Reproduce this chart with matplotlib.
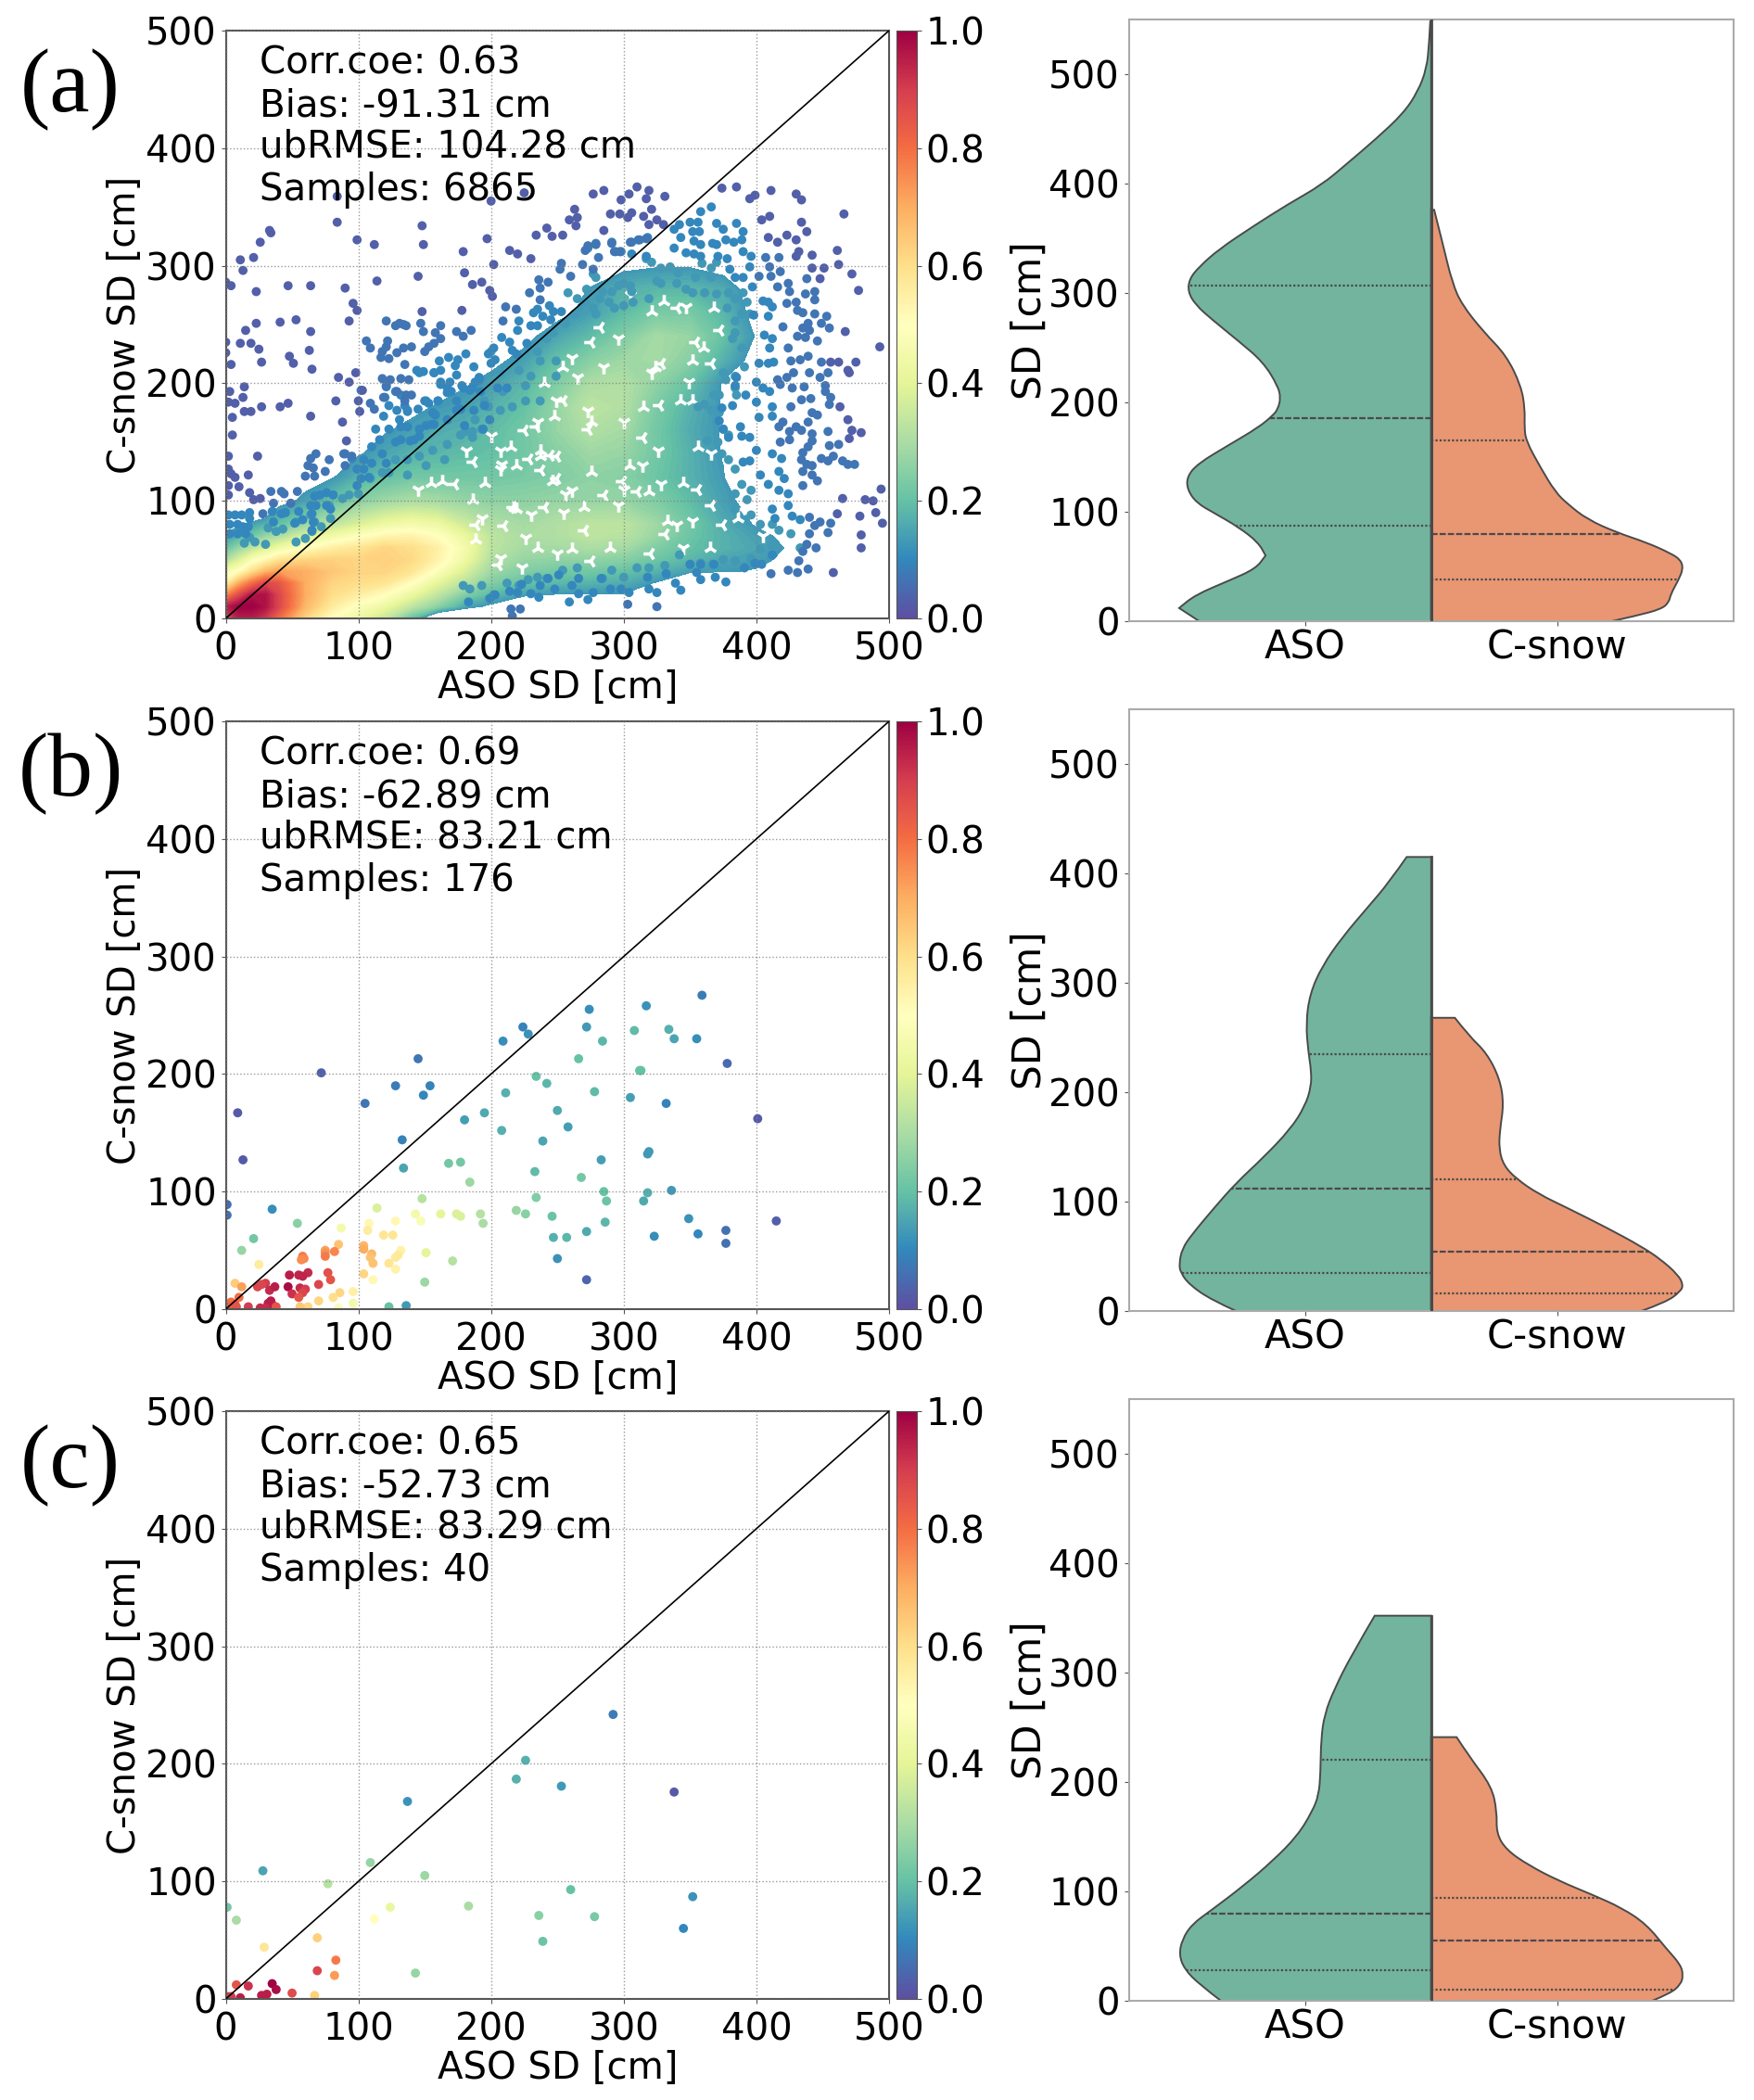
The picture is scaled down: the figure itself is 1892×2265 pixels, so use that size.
import numpy as np
import matplotlib
matplotlib.use('Agg')
import matplotlib.pyplot as plt
from matplotlib.cm import ScalarMappable
from matplotlib.colors import Normalize
from matplotlib.path import Path
from matplotlib.patches import PathPatch

W, H = 1892, 2265

stats = [
    ['Corr.coe: 0.63', 'Bias: -91.31 cm', 'ubRMSE: 104.28 cm', 'Samples: 6865'],
    ['Corr.coe: 0.69', 'Bias: -62.89 cm', 'ubRMSE: 83.21 cm', 'Samples: 176'],
    ['Corr.coe: 0.65', 'Bias: -52.73 cm', 'ubRMSE: 83.29 cm', 'Samples: 40'],
]
letters = ['(a)', '(b)', '(c)']

a_grid_x = [0, 10, 20, 30, 40, 60, 80, 100, 120, 140, 160, 180, 200, 225, 250, 275, 300, 325, 350, 375, 400, 425]
a_grid_y = [0, 10, 20, 30, 40, 50, 60, 70, 80, 100, 120, 140, 160, 180, 200, 220, 240, 260, 280, 300, 320]
a_grid_c = [
    [.85, .95, .95, .90, .80, .62, .50, .42, .34, .20, 0, 0, 0, 0, 0, 0, 0, 0, 0, 0, 0, 0],
    [.95, 1.0, 1.0, .97, .88, .68, .56, .48, .42, .33, .25, .15, .11, 0, 0, 0, 0, 0, 0, 0, 0, 0],
    [.75, .87, .97, .97, .88, .70, .60, .55, .50, .42, .33, .24, .18, .14, .12, .12, .12, 0, 0, 0, 0, 0],
    [.55, .70, .80, .88, .85, .70, .62, .60, .58, .50, .40, .32, .24, .20, .18, .17, .16, .12, 0, 0, 0, 0],
    [.45, .50, .60, .68, .72, .70, .65, .62, .62, .58, .48, .38, .28, .24, .22, .22, .20, .17, .14, .13, .12, 0],
    [.30, .38, .47, .52, .58, .62, .63, .62, .63, .61, .54, .43, .31, .27, .26, .26, .25, .21, .18, .15, .14, .11],
    [.20, .27, .33, .38, .43, .50, .55, .58, .62, .60, .55, .45, .33, .29, .29, .30, .29, .24, .20, .17, .15, .12],
    [.13, .17, .22, .27, .30, .38, .44, .49, .53, .54, .50, .42, .33, .30, .31, .33, .32, .27, .21, .17, .14, .11],
    [.10, .12, .14, .17, .20, .27, .33, .38, .43, .45, .43, .36, .31, .29, .31, .33, .33, .28, .22, .16, .12, .09],
    [0, 0, 0, 0, .10, .14, .20, .25, .28, .30, .29, .27, .26, .26, .27, .27, .27, .24, .19, .14, .10, 0],
    [0, 0, 0, 0, 0, .10, .12, .17, .20, .22, .22, .22, .22, .23, .24, .26, .25, .21, .17, .13, 0, 0],
    [0, 0, 0, 0, 0, 0, .09, .12, .15, .17, .18, .19, .20, .22, .25, .28, .27, .22, .17, .12, 0, 0],
    [0, 0, 0, 0, 0, 0, 0, .10, .12, .14, .16, .17, .19, .22, .27, .31, .29, .22, .16, .12, 0, 0],
    [0, 0, 0, 0, 0, 0, 0, .08, .10, .11, .13, .14, .17, .20, .27, .33, .31, .23, .17, .12, 0, 0],
    [0, 0, 0, 0, 0, 0, 0, 0, 0, .09, .10, .12, .14, .18, .24, .30, .31, .26, .20, .12, 0, 0],
    [0, 0, 0, 0, 0, 0, 0, 0, 0, 0, 0, .09, .11, .14, .20, .25, .28, .29, .25, .17, .10, 0],
    [0, 0, 0, 0, 0, 0, 0, 0, 0, 0, 0, 0, 0, .11, .15, .19, .24, .29, .27, .20, .12, 0],
    [0, 0, 0, 0, 0, 0, 0, 0, 0, 0, 0, 0, 0, .09, .11, .14, .19, .23, .23, .18, .10, 0],
    [0, 0, 0, 0, 0, 0, 0, 0, 0, 0, 0, 0, 0, 0, .08, .13, .17, .18, .18, .16, .09, 0],
    [0, 0, 0, 0, 0, 0, 0, 0, 0, 0, 0, 0, 0, 0, 0, .08, .11, .12, .12, .10, 0, 0],
    [0, 0, 0, 0, 0, 0, 0, 0, 0, 0, 0, 0, 0, 0, 0, 0, 0, 0, 0, 0, 0, 0],
]
# white holes between the dots inside the dense part
a_holes = [(285, 214), (324, 214), (328, 217), (321, 209), (352, 219), (354, 235), (273, 177), (276, 167),
           (273, 161), (300, 167), (315, 180), (327, 181), (349, 201), (343, 185), (314, 154), (326, 143),
           (304, 130), (299, 117), (314, 130), (276, 125), (249, 119), (261, 109), (237, 138), (228, 136),
           (208, 131), (215, 146), (249, 138), (235, 167), (248, 172), (254, 185), (261, 222), (254, 214),
           (282, 248), (296, 238), (321, 261), (340, 264), (347, 265), (368, 264), (366, 217), (352, 83),
           (333, 83), (331, 72), (340, 80), (319, 108), (310, 108), (328, 114), (219, 93), (209, 79), (207, 51),
           (261, 59), (275, 49), (193, 85), (186, 101), (186, 133), (405, 70), (386, 85), (366, 96), (296, 96),
           (352, 185), (374, 80), (366, 140), (356, 146), (389, 93), (207, 127), (219, 130), (234, 163), (249, 185),
           (246, 117), (216, 95), (230, 88), (188, 67), (205, 46), (223, 43), (237, 143), (172, 114), (181, 143),
           (163, 117), (244, 139), (207, 143), (155, 115), (237, 126), (256, 106), (217, 95), (188, 80), (226, 69),
           (360, 230), (372, 245), (305, 275), (330, 270), (275, 235), (265, 205), (240, 200), (225, 160), (200, 155),
           (270, 95), (285, 105), (300, 110), (345, 115), (355, 110), (250, 55), (290, 60), (320, 55), (345, 60),
           (365, 60), (240, 95), (255, 90), (235, 60), (270, 75), (145, 110), (195, 115)]
# single dots around the cloud, grouped by colour
a_far = [(84, 359), (84, 337), (148, 334), (33, 330), (34, 328), (26, 320), (99, 322), (112, 318), (149, 318),
         (11, 305), (21, 307), (13, 296), (179, 312), (197, 323), (200, 355), (225, 362), (214, 313), (220, 310),
         (230, 306), (234, 326), (242, 332), (246, 325), (254, 326), (259, 339), (263, 348), (265, 341), (264, 334),
         (277, 361), (285, 364), (298, 356), (304, 361), (310, 367), (319, 364), (317, 357), (290, 344), (297, 344),
         (303, 341), (306, 345), (315, 342), (321, 348), (319, 335), (325, 339), (285, 330), (331, 359), (330, 335),
         (202, 301), (180, 294), (145, 291), (114, 287), (47, 283), (64, 283), (4, 283), (0, 286), (23, 278), (90, 281),
         (186, 284), (193, 286), (199, 279), (201, 274), (96, 268), (99, 262), (148, 261), (178, 262), (93, 253),
         (53, 254), (41, 252), (23, 251), (15, 245), (64, 244), (0, 235), (0, 226), (11, 234), (19, 234), (25, 229),
         (63, 228), (48, 223), (51, 217), (27, 218), (4, 216), (65, 212), (3, 193), (2, 184), (7, 183), (13, 188),
         (14, 197), (14, 176), (19, 176), (27, 180), (41, 180), (47, 183), (5, 171), (64, 172), (88, 167), (91, 151),
         (5, 156), (85, 205), (93, 201), (83, 185), (100, 185), (101, 176), (103, 194), (98, 209), (2, 138), (24, 138),
         (2, 127), (4, 123), (7, 120), (17, 122), (2, 113), (10, 112), (2, 105), (18, 107), (21, 101), (26, 102),
         (374, 366), (385, 367), (411, 364), (430, 361), (434, 356), (399, 360), (395, 357), (466, 344), (404, 339),
         (410, 342), (434, 337), (438, 329), (409, 324), (416, 320), (423, 326), (430, 322), (461, 313), (462, 301),
         (472, 293), (477, 279), (432, 312), (430, 308), (442, 309), (442, 298), (451, 298), (448, 289), (467, 244),
         (493, 231), (475, 218), (462, 218), (456, 218), (469, 211), (470, 209), (469, 169), (472, 160), (479, 158),
         (470, 153), (494, 110), (482, 101), (488, 100), (465, 102), (478, 87), (490, 90), (495, 81), (461, 89),
         (479, 71), (479, 60), (458, 39), (463, 180)]
a_mid = [(121, 253), (128, 249), (131, 251), (134, 250), (136, 249), (147, 251), (149, 244), (162, 249), (158, 243),
         (162, 238), (174, 244), (179, 240), (185, 245), (211, 265), (219, 263), (209, 253), (229, 277), (237, 271),
         (236, 288), (243, 286), (237, 281), (252, 297), (253, 302), (260, 291), (269, 301), (277, 297), (271, 313),
         (273, 317), (279, 318), (281, 307), (291, 319), (293, 312), (297, 312), (305, 320), (311, 322), (317, 323),
         (106, 236), (109, 230), (122, 236), (121, 231), (118, 227), (117, 222), (123, 221), (129, 226), (134, 230),
         (140, 231), (150, 227), (153, 231), (157, 234), (135, 216), (118, 204), (124, 203), (132, 204), (138, 203),
         (121, 198), (129, 193), (119, 188), (136, 190), (140, 190), (135, 185), (109, 183), (112, 178), (407, 307),
         (417, 307), (438, 289), (410, 299), (418, 295), (402, 291), (411, 291), (416, 282), (424, 285), (425, 278),
         (437, 276), (444, 278), (444, 271), (423, 268), (430, 269), (431, 262), (435, 260), (444, 259), (453, 257),
         (449, 251), (455, 247), (439, 251), (435, 247), (440, 245), (446, 236), (437, 239), (431, 240), (420, 248),
         (424, 230), (449, 218), (454, 209), (448, 205), (439, 223), (433, 220), (426, 219), (440, 209), (428, 209),
         (423, 205), (416, 203), (436, 197), (427, 196), (418, 199), (452, 198), (452, 193), (456, 188), (455, 182),
         (441, 187), (434, 186), (426, 180), (442, 175), (446, 173), (439, 167), (454, 159), (442, 157), (420, 167),
         (417, 163), (425, 159), (425, 152), (430, 163), (434, 160), (418, 150), (462, 148), (455, 147), (442, 151),
         (439, 146), (435, 141), (434, 135), (449, 136), (454, 134), (458, 138), (465, 134), (469, 131), (474, 131),
         (442, 130), (438, 131), (435, 125), (442, 122), (446, 117), (435, 113), (456, 81), (454, 73), (448, 82),
         (440, 86), (444, 79), (440, 72), (445, 60), (438, 63), (435, 57), (432, 49), (439, 42), (424, 41), (431, 39),
         (411, 38), (216, 2), (215, 8), (222, 8), (325, 10), (303, 12), (34, 108), (42, 108), (44, 106), (54, 108),
         (36, 98), (49, 98), (28, 89), (67, 121), (60, 121), (64, 136), (68, 140), (62, 130), (66, 128), (75, 125),
         (78, 135), (90, 140), (89, 140), (95, 138), (90, 130)]
a_near = [(208, 239), (214, 235), (216, 228), (219, 225), (202, 230), (198, 225), (203, 220), (200, 217), (161, 219),
          (168, 222), (175, 220), (181, 225), (173, 215), (187, 214), (144, 211), (149, 210), (157, 209), (162, 211),
          (162, 199), (169, 201), (178, 198), (186, 196), (191, 203), (167, 192), (174, 185), (192, 193), (150, 185),
          (153, 183), (160, 185), (123, 181), (129, 177), (137, 176), (145, 178), (156, 175), (174, 177), (119, 172),
          (113, 161), (123, 161), (131, 169), (232, 260), (235, 263), (244, 266), (247, 261), (239, 257), (245, 254),
          (253, 261), (221, 253), (220, 245), (230, 249), (235, 249), (227, 234), (412, 93), (424, 106), (417, 109),
          (424, 96), (427, 87), (414, 85), (433, 84), (409, 114), (417, 125), (421, 119), (403, 122), (400, 143),
          (412, 140), (419, 136), (390, 133), (395, 134), (395, 154), (389, 155), (388, 163), (379, 154), (375, 161),
          (372, 168), (374, 179), (382, 181), (400, 184), (402, 171), (412, 180), (412, 172), (384, 198), (392, 190),
          (385, 205), (400, 201), (405, 196), (410, 193), (402, 217), (409, 217), (413, 218), (410, 230), (412, 238),
          (406, 241), (409, 257), (405, 270), (409, 269), (412, 265), (398, 258), (397, 282), (395, 299), (390, 290),
          (384, 290), (380, 297), (389, 322), (383, 320), (377, 322), (390, 312), (396, 308), (371, 308), (378, 306),
          (370, 318), (367, 319), (358, 318), (347, 311), (353, 310), (358, 308), (385, 336), (390, 329), (370, 336),
          (375, 331), (357, 329), (352, 329), (353, 321), (366, 350), (358, 346), (356, 337), (350, 337), (342, 335),
          (338, 331), (343, 324), (338, 315), (318, 324), (312, 322), (306, 320), (317, 308), (306, 310), (294, 312),
          (298, 312), (273, 315), (279, 319), (291, 320), (377, 31), (369, 35), (358, 33), (355, 39), (350, 46),
          (339, 30), (343, 24), (332, 38), (318, 35), (319, 25), (325, 22), (304, 22), (298, 25), (290, 25), (283, 34),
          (277, 22), (273, 16), (266, 21), (259, 14), (261, 28), (266, 34), (251, 37), (243, 34), (248, 25), (236, 18),
          (230, 21), (237, 28), (223, 29), (220, 22), (214, 23), (203, 20), (199, 17), (183, 14), (399, 47), (391, 43),
          (404, 46), (412, 54), (368, 46), (358, 46), (110, 146), (116, 152), (132, 163), (139, 151), (146, 155),
          (155, 165), (160, 185), (170, 193), (179, 196), (188, 201), (151, 185), (132, 190), (128, 193), (121, 197),
          (102, 194), (120, 188), (135, 181), (137, 177), (95, 136), (99, 127), (104, 135), (104, 127), (110, 132),
          (102, 119), (99, 113), (108, 120), (121, 132), (128, 150), (118, 140), (132, 152), (142, 152), (146, 161),
          (137, 163), (151, 164), (157, 165), (158, 173), (167, 169), (177, 178), (187, 177), (195, 181), (205, 196),
          (212, 196), (180, 164), (194, 161), (199, 169), (167, 196), (162, 201), (146, 209), (157, 209), (174, 207),
          (184, 194), (191, 205), (55, 91), (36, 82), (52, 81), (58, 84), (35, 91), (42, 89), (45, 90), (64, 96),
          (68, 96), (76, 96), (79, 93), (67, 104), (71, 105), (76, 107), (81, 105), (65, 89), (66, 82), (65, 75),
          (2, 88), (7, 88), (12, 88), (18, 90), (18, 85), (3, 80), (9, 80), (13, 78), (17, 78), (3, 72), (9, 72), (15, 72)]
a_ring = [(317, 306), (321, 303), (328, 298), (335, 299), (341, 294), (305, 283), (300, 285), (306, 278), (296, 283),
          (291, 278), (284, 278), (279, 290), (282, 272), (277, 264), (279, 259), (289, 269), (293, 264), (300, 266),
          (307, 269), (319, 272), (325, 287), (328, 285), (340, 285), (347, 280), (354, 290), (359, 302), (366, 298),
          (366, 290), (370, 303), (352, 277), (361, 277), (370, 276), (379, 277), (384, 272), (390, 277), (393, 269),
          (395, 259), (389, 259), (384, 253), (378, 264), (384, 243), (382, 238), (389, 230), (391, 214), (375, 209),
          (384, 206), (377, 203), (384, 196), (385, 190), (372, 190), (368, 190), (361, 182), (356, 180), (366, 177),
          (372, 175), (370, 167), (375, 161), (379, 156), (363, 151), (371, 150), (374, 140), (379, 135), (384, 127),
          (389, 114), (396, 109), (384, 106), (393, 101), (384, 93), (396, 88), (403, 80), (412, 80), (417, 75),
          (426, 72), (433, 60), (412, 62), (403, 59), (396, 51), (384, 49), (375, 50), (367, 46), (358, 47), (350, 46),
          (342, 54), (331, 45), (319, 43), (310, 43), (300, 35), (291, 41), (284, 34), (265, 43), (254, 41), (242, 34),
          (235, 35), (228, 33), (221, 28), (212, 30), (202, 20), (193, 28), (184, 25), (179, 28), (247, 243), (256, 251),
          (263, 259), (258, 277), (265, 272), (272, 280), (277, 293), (271, 269), (242, 238), (235, 227), (221, 211),
          (209, 193), (195, 185), (191, 201), (207, 209), (200, 227), (226, 198), (230, 206), (237, 219), (249, 219),
          (249, 206), (237, 185), (226, 185), (216, 180), (207, 177), (198, 180), (188, 169), (186, 154), (193, 161),
          (181, 159), (100, 106), (109, 119), (118, 124), (128, 135), (137, 135), (146, 138), (156, 143), (167, 148),
          (177, 156), (186, 159), (123, 124), (137, 122), (151, 130), (165, 135), (93, 105), (88, 102), (78, 96),
          (64, 88), (67, 82), (65, 74), (53, 82), (43, 76), (38, 74), (32, 77), (18, 69), (14, 64), (22, 65), (30, 63),
          (53, 65), (60, 68), (72, 78), (79, 85)]
a_far_c, a_mid_c, a_near_c, a_ring_c = 0.03, 0.07, 0.10, 0.13

# panel b dots: ASO, C-snow, density
b_dots = [(359, 267, .08), (317, 258, .12), (274, 255, .11), (224, 240, .09), (228, 234, .12), (209, 228, .11),
          (272, 240, .13), (308, 237, .19), (334, 238, .17), (338, 230, .15), (355, 230, .11), (284, 228, .18),
          (145, 213, .07), (266, 213, .20), (378, 209, .05), (72, 201, .03), (312, 203, .20), (313, 203, .20),
          (234, 198, .20), (242, 192, .18), (128, 190, .08), (154, 190, .09), (149, 182, .10), (211, 184, .17),
          (278, 185, .19), (305, 180, .14), (332, 175, .09), (105, 175, .07), (9, 167, .02), (195, 167, .16),
          (250, 169, .16), (180, 161, .14), (258, 155, .14), (208, 152, .17), (401, 162, .02), (133, 144, .09),
          (239, 143, .15), (318, 132, .13), (319, 134, .13), (283, 127, .14), (13, 127, .02), (168, 124, .22),
          (177, 125, .22), (134, 120, .15), (233, 117, .19), (268, 112, .22), (184, 108, .28), (285, 100, .20),
          (318, 99, .17), (336, 101, .13), (234, 95, .24), (287, 92, .21), (315, 92, .16), (148, 94, .32), (1, 89, .06),
          (1, 80, .06), (35, 85, .11), (114, 86, .38), (219, 84, .27), (226, 81, .25), (246, 79, .21), (143, 81, .45),
          (162, 81, .40), (174, 81, .38), (177, 79, .38), (192, 81, .32), (147, 75, .47), (194, 73, .30), (128, 75, .52),
          (108, 73, .52), (54, 73, .25), (87, 69, .45), (107, 67, .56), (286, 74, .18), (349, 77, .12), (415, 75, .03),
          (272, 66, .16), (377, 67, .06), (356, 64, .10), (247, 61, .17), (257, 61, .18), (323, 62, .11), (119, 63, .58),
          (126, 63, .58), (21, 60, .22), (377, 56, .06), (85, 55, .66), (104, 54, .68), (104, 51, .70), (75, 50, .72),
          (75, 48, .74), (82, 49, .76), (132, 50, .54), (12, 50, .27), (151, 48, .40), (110, 47, .68), (75, 45, .78),
          (58, 45, .78), (59, 43, .76), (57, 42, .75), (130, 46, .57), (128, 44, .57), (109, 44, .66), (111, 39, .66),
          (123, 39, .58), (25, 38, .56), (171, 41, .32), (250, 43, .12), (128, 34, .54), (62, 31, .93), (77, 31, .86),
          (48, 29, .95), (55, 29, .94), (58, 28, .94), (79, 25, .85), (104, 30, .62), (111, 25, .52), (150, 23, .28),
          (272, 25, .04), (7, 22, .64), (12, 19, .72), (30, 22, .90), (27, 21, .88), (24, 19, .88), (33, 16, .93),
          (37, 19, .95), (47, 19, .98), (70, 21, .88), (56, 18, .93), (60, 17, .90), (58, 14, .88), (50, 13, .92),
          (55, 10, .85), (96, 15, .55), (86, 14, .62), (81, 10, .60), (70, 7, .62), (96, 5, .45), (136, 3, .13),
          (123, 2, .20), (85, 1, .48), (62, 2, .62), (56, 2, .65), (34, 7, .95), (32, 5, .95), (35, 4, .95), (26, 1, .93),
          (30, 1, .93), (38, 2, .85), (17, 2, .90), (10, 10, .80), (4, 6, .80), (7, 4, .85), (3, 2, .83), (8, 2, .85)]

# panel c dots
c_dots = [(292, 242, .08), (226, 203, .17), (219, 187, .17), (253, 181, .13), (338, 176, .02), (137, 168, .12),
          (109, 116, .27), (28, 109, .15), (150, 105, .28), (77, 98, .32), (260, 93, .20), (352, 87, .12), (1, 78, .22),
          (183, 79, .30), (124, 78, .42), (236, 71, .25), (278, 70, .23), (8, 67, .30), (112, 68, .50), (345, 60, .10),
          (69, 52, .63), (239, 49, .21), (29, 44, .58), (83, 33, .78), (69, 24, .88), (82, 20, .73), (143, 22, .27),
          (35, 13, 1.0), (8, 12, .85), (17, 11, .92), (38, 8, .98), (50, 5, .87), (31, 4, .95), (27, 3, .95), (67, 3, .63),
          (11, 1, .95), (4, 2, .90), (2, 2, .90)]

# violin outlines: SD, half width (a repeated point keeps a sharp corner)
aso_a = [(0, .92), (12, 1.0), (12, 1.0), (24, .936), (37, .803), (48, .696), (60, .657), (60, .657), (72, .686), (86, .764),
         (99, .862), (108, .93), (120, .967), (132, .969), (144, .926), (161, .803), (177, .686), (188, .628), (194, .608),
         (204, .597), (215, .608), (237, .667), (256, .764), (276, .871), (289, .934), (301, .965), (313, .959),
         (324, .92), (340, .842), (361, .706), (381, .569), (399, .433), (418, .335), (441, .218), (464, .111),
         (484, .053), (505, .018), (528, .008), (550, .003)]
csnow_a = [(0, .717), (5, .815), (11, .912), (17, .943), (25, .951), (37, .98), (48, 1.0), (56, .99), (62, .951),
           (72, .854), (81, .737), (93, .62), (107, .542), (118, .493), (140, .435), (165, .376), (178, .37), (194, .372),
           (215, .357), (243, .298), (264, .21), (289, .123), (309, .084), (346, .045), (376, .012)]
aso_b = [(0, .774), (10, .871), (24, .959), (35, .994), (43, 1.0), (57, .988), (70, .949), (94, .862), (117, .774),
         (140, .667), (166, .559), (187, .501), (205, .476), (220, .476), (236, .487), (263, .497), (290, .481),
         (315, .433), (341, .355), (370, .248), (391, .17), (415, .097)]
csnow_b = [(0, .834), (8, .932), (18, .99), (24, 1.0), (33, .98), (47, .912), (59, .834), (76, .698), (94, .542),
           (107, .425), (121, .337), (133, .288), (148, .269), (166, .273), (189, .288), (212, .273), (236, .22),
           (251, .152), (268, .094)]
aso_c = [(0, .834), (15, .92), (29, .979), (42, 1.0), (56, .988), (70, .949), (83, .871), (105, .745), (128, .628),
         (151, .53), (173, .472), (188, .446), (208, .439), (239, .437), (262, .423), (285, .384), (316, .316),
         (352, .224)]
csnow_c = [(0, .877), (7, .951), (15, .99), (23, 1.0), (33, .99), (48, .932), (70, .854), (85, .756), (97, .639),
           (110, .503), (124, .386), (138, .298), (153, .259), (173, .261), (196, .24), (223, .152), (241, .101)]
# quartiles (25, 50, 75)
aso_q = [[87, 186, 307], [35, 112, 235], [28, 80, 220]]
csnow_q = [[38, 80, 165], [16, 54, 120], [10, 55, 94]]
violins = [(aso_a, csnow_a), (aso_b, csnow_b), (aso_c, csnow_c)]

plt.rcParams['font.family'] = 'DejaVu Sans'
plt.rcParams['font.size'] = 29

fig = plt.figure(figsize=(W / 100, H / 100), dpi=100)
cmap = plt.get_cmap('Spectral_r')
norm = Normalize(0, 1)
DARK = '#555555'
LINE = '#4a4a4a'


def add_ax(left, top, right, bottom):
    return fig.add_axes([left / W, 1 - bottom / H, (right - left) / W, (bottom - top) / H])


def half_width(ax, outline, q, side, colour):
    y = np.array([p[0] for p in outline])
    w = np.array([p[1] for p in outline])
    xs = 0.5 + side * w
    # read points act as quadratic control points so the edge stays smooth
    verts = [(0.5, y[0]), (xs[0], y[0])]
    codes = [Path.MOVETO, Path.LINETO]
    for k in range(1, len(y) - 1):
        if k == len(y) - 2:
            end = (xs[k + 1], y[k + 1])
        else:
            end = ((xs[k] + xs[k + 1]) / 2, (y[k] + y[k + 1]) / 2)
        verts += [(xs[k], y[k]), end]
        codes += [Path.CURVE3, Path.CURVE3]
    verts += [(0.5, y[-1]), (0.5, y[0])]
    codes += [Path.LINETO, Path.CLOSEPOLY]
    ax.add_patch(PathPatch(Path(verts, codes), fc=colour, ec=LINE, lw=1.4, zorder=2))
    styles = [(0, (1, 1)), (0, (3, 1)), (0, (1, 1))]
    for val, ls in zip(q, styles):
        ax.plot([0.5, 0.5 + side * np.interp(val, y, w)], [val, val], color=LINE, lw=1.6, ls=ls, zorder=3)
    ax.plot([0.5, 0.5], [0, y.max()], color=LINE, lw=2, zorder=4)


scatter_tops = [33, 778, 1522]
violin_tops = [21, 765, 1509]
letter_y = [97, 835, 1581]
all_dots = [None, b_dots, c_dots]

for i in range(3):
    top = scatter_tops[i]
    ax = add_ax(243.5, top, 959, top + 634)
    if i == 0:
        ax.contourf(a_grid_x, a_grid_y, a_grid_c, levels=np.linspace(0.125, 1.0, 110), cmap=cmap, norm=norm,
                    antialiased=False, zorder=1, extend='max')
        # Y shaped slits, like the gaps left between touching dots
        for k, mk in enumerate(['1', '2', '3']):
            ax.scatter(*zip(*a_holes[k::3]), s=110, marker=mk, c='white', lw=2.6, zorder=1.5)
        for pts, cval in [(a_ring, a_ring_c), (a_near, a_near_c), (a_mid, a_mid_c), (a_far, a_far_c)]:
            ax.scatter(*zip(*pts), s=50, c=[cval] * len(pts), cmap=cmap, norm=norm, lw=0, zorder=2)
    else:
        d = np.array(all_dots[i])
        ax.scatter(d[:, 0], d[:, 1], s=50, c=d[:, 2], cmap=cmap, norm=norm, lw=0, zorder=2)
    ax.plot([0, 500], [0, 500], color='black', lw=1.2, zorder=4)
    ax.set_xlim(0, 500)
    ax.set_ylim(0, 500)
    ax.set_xticks(range(0, 501, 100))
    ax.set_yticks(range(0, 501, 100))
    ax.grid(True, color='gray', lw=1, ls=':', alpha=0.8, zorder=3)
    ax.set_axisbelow(False)
    ax.tick_params(axis='x', pad=6, color=DARK)
    ax.tick_params(axis='y', color=DARK)
    for s in ax.spines.values():
        s.set_color(DARK)
        s.set_linewidth(1.5)
    ax.set_xlabel('ASO SD [cm]')
    ax.set_ylabel('C-snow SD [cm]')
    ax.xaxis.set_label_coords(0.5, -0.086)
    ax.yaxis.set_label_coords(-0.123, 0.5)
    for txt, yy in zip(stats[i], [463, 427, 392, 356]):
        ax.text(25.5, yy, txt, va='baseline', ha='left', zorder=6)

    cax = add_ax(967, top, 989, top + 634)
    cb = fig.colorbar(ScalarMappable(norm=norm, cmap=cmap), cax=cax)
    cb.set_ticks([0, 0.2, 0.4, 0.6, 0.8, 1.0])
    cb.ax.tick_params(color=DARK)
    cb.outline.set_edgecolor(DARK)

    fig.text(76 / W, 1 - letter_y[i] / H, letters[i], family='Liberation Serif', fontsize=70, ha='center', va='center')

    vtop = violin_tops[i]
    vax = add_ax(1217.5, vtop, 1870, vtop + 649)
    half_width(vax, violins[i][0], aso_q[i], -1, '#73B49F')
    half_width(vax, violins[i][1], csnow_q[i], 1, '#E99673')
    vax.set_xlim(-0.7, 1.7)
    vax.set_ylim(0, 550)
    vax.set_xticks([0, 1])
    vax.set_xticklabels(['ASO', 'C-snow'], fontsize=30)
    vax.set_yticks(range(0, 501, 100))
    vax.set_ylabel('SD [cm]', fontsize=30.5)
    vax.yaxis.set_label_coords(-0.132, 0.5)
    vax.tick_params(color=DARK)
    vax.tick_params(axis='x', pad=2)
    for s in vax.spines.values():
        s.set_color('#aaaaaa')
        s.set_linewidth(1.5)

fig.savefig('out.png', dpi=100)
